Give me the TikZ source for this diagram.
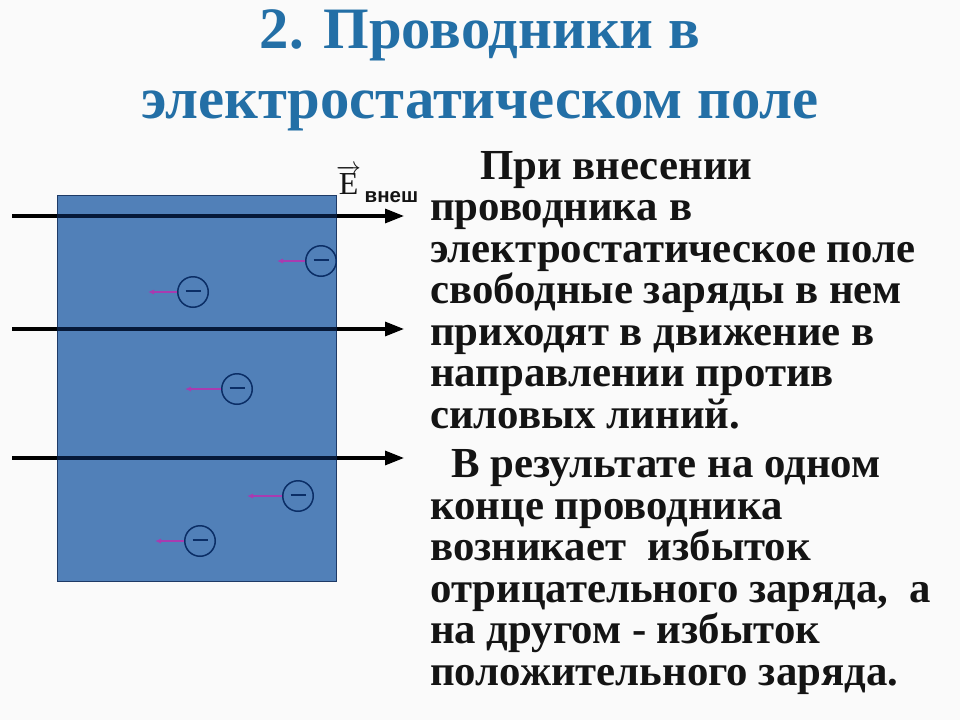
\documentclass[tikz,border=0pt]{standalone}
\usepackage{fontspec}
\setmainfont{Liberation Serif}
\newfontfamily\lsans{Liberation Sans}
\usetikzlibrary{arrows.meta}
\definecolor{bg}{HTML}{FAFAFA}
\definecolor{titlecol}{HTML}{236FA6}
\definecolor{plate}{HTML}{5180B8}
\definecolor{plateedge}{HTML}{1E3A66}
\definecolor{chargecol}{HTML}{0B2E66}
\definecolor{pinkcol}{HTML}{A83BB0}
\definecolor{txt}{HTML}{141414}
\tikzset{
 titletext/.style={font=\fontsize{58.7}{58.7}\selectfont\bfseries, text=titlecol, inner sep=0pt, anchor=base},
 bodytext/.style={font=\fontsize{42.8}{42.8}\selectfont\bfseries, text=txt, inner sep=0pt, anchor=base west},
 fieldline/.style={line width=3.2pt, black, -{Triangle[length=19pt,width=14pt]}},
 charge/.style={circle, draw=chargecol, line width=1.5pt, minimum size=30.5pt, inner sep=0pt, text=chargecol},
 pinkarrow/.style={pinkcol, line width=1.1pt, -{Latex[length=6pt,width=5pt]}},
}
\begin{document}
\begin{tikzpicture}[x=1pt,y=-1pt]
\useasboundingbox (0,0) rectangle (960,720);
\fill[bg] (0,0) rectangle (960,720);
\node[titletext] (t1) at (480,48) {2. Проводники в};
\node[titletext] (t2) at (480,118) {электростатическом поле};
\node[draw=plateedge, fill=plate, line width=1pt, inner sep=0pt, minimum width=279pt, minimum height=386pt] (plate) at (196.5,388) {};
\foreach \n/\y in {a/216,b/329,c/458}{
  \coordinate (\n s) at (12,\y);
  \coordinate (\n e) at (404,\y);
  \draw[fieldline] (\n s) -- (\n e);
  \draw[line width=3.2pt, color=chargecol!55!black] (plate.west |- \n s) -- (plate.east |- \n s);
}
\foreach \n/\x/\y/\l in {p/321/261/29,q/193/292/30,r/237/389/37,u/298/496/36,v/200/541/30}{
  \node[charge] (\n) at (\x,\y) {\rule[2.6pt]{15pt}{2pt}};
  \coordinate (\n e) at (\x-15-\l,\y);
  \draw[pinkarrow] (\n) -- (\n e);
}
\node[inner sep=0pt, anchor=base west, font=\fontsize{32}{32}\selectfont, text=txt] (E) at (336,194) {$\overrightarrow{\mathrm{E}}$};
\node[inner sep=0pt, anchor=base west, font=\lsans\fontsize{20.5}{20.5}\selectfont\bfseries, text=txt] (vn) at (364.5,202) {внеш};
\node[bodytext] (l1) at (480,179) {При внесении};
\node[bodytext] (l2) at (430,220.5) {проводника в};
\node[bodytext] (l3) at (430,262) {электростатическое поле};
\node[bodytext] (l4) at (430,303.5) {свободные заряды в нем};
\node[bodytext] (l5) at (430,345) {приходят в движение в};
\node[bodytext] (l6) at (430,386.5) {направлении против};
\node[bodytext] (l7) at (430,428) {силовых линий.};
\node[bodytext] (l8) at (451,477.5) {В результате на одном};
\node[bodytext] (l9) at (430,519) {конце проводника};
\node[bodytext] (l10) at (430,560.5) {возникает\ \ избыток};
\node[bodytext] (l11) at (430,602) {отрицательного заряда,\ \ а};
\node[bodytext] (l12) at (430,643.5) {на другом - избыток};
\node[bodytext] (l13) at (430,685) {положительного заряда.};
\end{tikzpicture}
\end{document}
